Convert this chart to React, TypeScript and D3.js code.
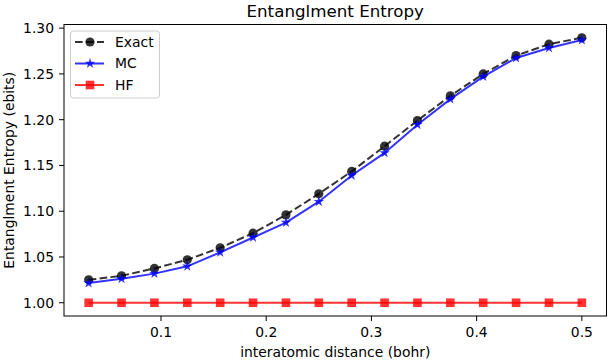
import React from 'react'
import * as d3 from 'd3'

const distances = [
  0.03125, 0.0625, 0.09375, 0.125, 0.15625, 0.1875, 0.21875, 0.25, 0.28125,
  0.3125, 0.34375, 0.375, 0.40625, 0.4375, 0.46875, 0.5,
]
const exact = [
  1.025, 1.0295, 1.0375, 1.047, 1.06, 1.076, 1.096, 1.119, 1.1435, 1.171,
  1.199, 1.226, 1.25, 1.27, 1.2825, 1.2895,
]
const mc = [
  1.0215, 1.0262, 1.0318, 1.0398, 1.055, 1.0713, 1.0876, 1.1104, 1.139,
  1.1637, 1.1945, 1.2224, 1.247, 1.2674, 1.2783, 1.287,
]
const hf = [1, 1, 1, 1, 1, 1, 1, 1, 1, 1, 1, 1, 1, 1, 1, 1]
const xTicks = [0.1, 0.2, 0.3, 0.4, 0.5]
const yTicks = [1.0, 1.05, 1.1, 1.15, 1.2, 1.25, 1.3]

const width = 611
const height = 360
const left = 64
const right = 606.5
const top = 24.5
const bottom = 316
const font = 'DejaVu Sans, sans-serif'
const fs = 13.9
const lw = 2

const starPath = (r: number) => {
  const pts: string[] = []
  for (let i = 0; i < 10; i++) {
    const rr = i % 2 === 0 ? r : r * 0.382
    const a = (Math.PI / 5) * i - Math.PI / 2
    pts.push(`${(rr * Math.cos(a)).toFixed(2)},${(rr * Math.sin(a)).toFixed(2)}`)
  }
  return 'M' + pts.join('L') + 'Z'
}

const App = () => {
  const xPad = (0.5 - 0.03125) * 0.05
  const x = d3
    .scaleLinear()
    .domain([0.03125 - xPad, 0.5 + xPad])
    .range([left, right])
  const yMax = d3.max(exact) as number
  const yPad = (yMax - 1) * 0.05
  const y = d3
    .scaleLinear()
    .domain([1 - yPad, yMax + yPad])
    .range([bottom, top])

  const line = (vals: number[]) =>
    d3
      .line<number>()
      .x((_, i) => x(distances[i]))
      .y((d) => y(d))(vals) as string

  const star = starPath(5.5)

  return (
    <svg
      width={width}
      height={height}
      style={{ position: 'absolute', left: 0, top: 0, background: '#fff' }}
      fontFamily={font}
    >
      <rect x={0} y={0} width={width} height={height} fill="#fff" />

      {/* HF */}
      <path d={line(hf)} fill="none" stroke="red" strokeOpacity={0.8} strokeWidth={lw} />
      {hf.map((d, i) => (
        <rect
          key={'h' + i}
          x={x(distances[i]) - 4.3}
          y={y(d) - 4.3}
          width={8.6}
          height={8.6}
          fill="red"
          fillOpacity={0.8}
        />
      ))}

      {/* Exact */}
      <path
        d={line(exact)}
        fill="none"
        stroke="black"
        strokeOpacity={0.8}
        strokeWidth={lw}
        strokeDasharray="7.7,3.3"
      />
      {exact.map((d, i) => (
        <circle key={'e' + i} cx={x(distances[i])} cy={y(d)} r={4.6} fill="black" fillOpacity={0.8} />
      ))}

      {/* MC */}
      <path d={line(mc)} fill="none" stroke="blue" strokeOpacity={0.8} strokeWidth={lw} />
      {mc.map((d, i) => (
        <path
          key={'m' + i}
          d={star}
          transform={`translate(${x(distances[i])},${y(d)})`}
          fill="blue"
          fillOpacity={0.8}
        />
      ))}

      {/* frame */}
      <rect x={left} y={top} width={right - left} height={bottom - top} fill="none" stroke="black" strokeWidth={1} />

      {/* x axis */}
      {xTicks.map((t) => (
        <g key={'xt' + t} transform={`translate(${x(t)},${bottom})`}>
          <line y2={5} stroke="black" />
          <text y={20.5} textAnchor="middle" fontSize={fs}>
            {t.toFixed(1)}
          </text>
        </g>
      ))}
      <text x={(left + right) / 2} y={357} textAnchor="middle" fontSize={fs}>
        interatomic distance (bohr)
      </text>

      {/* y axis */}
      {yTicks.map((t) => (
        <g key={'yt' + t} transform={`translate(${left},${y(t)})`}>
          <line x2={-5} stroke="black" />
          <text x={-10} dy="0.35em" textAnchor="end" fontSize={fs}>
            {t.toFixed(2)}
          </text>
        </g>
      ))}
      <text
        transform={`translate(14,${(top + bottom) / 2}) rotate(-90)`}
        textAnchor="middle"
        fontSize={fs}
      >
        Entanglment Entropy (ebits)
      </text>

      {/* title */}
      <text x={(left + right) / 2} y={16.5} textAnchor="middle" fontSize={16.7}>
        Entanglment Entropy
      </text>

      {/* legend */}
      <g>
        <rect x={70.5} y={31} width={89} height={67} rx={3} fill="#fff" fillOpacity={0.8} stroke="#ccc" />
        <line x1={75} x2={104} y1={42} y2={42} stroke="black" strokeOpacity={0.8} strokeWidth={lw} strokeDasharray="7.7,3.3" />
        <circle cx={90} cy={42} r={4.6} fill="black" fillOpacity={0.8} />
        <text x={115} y={42} dy="0.35em" fontSize={fs}>Exact</text>
        <line x1={75} x2={104} y1={63.5} y2={63.5} stroke="blue" strokeOpacity={0.8} strokeWidth={lw} />
        <path d={star} transform="translate(90,63.5)" fill="blue" fillOpacity={0.8} />
        <text x={115} y={63.5} dy="0.35em" fontSize={fs}>MC</text>
        <line x1={75} x2={104} y1={85} y2={85} stroke="red" strokeOpacity={0.8} strokeWidth={lw} />
        <rect x={85.7} y={80.7} width={8.6} height={8.6} fill="red" fillOpacity={0.8} />
        <text x={115} y={85} dy="0.35em" fontSize={fs}>HF</text>
      </g>
    </svg>
  )
}

export default App
